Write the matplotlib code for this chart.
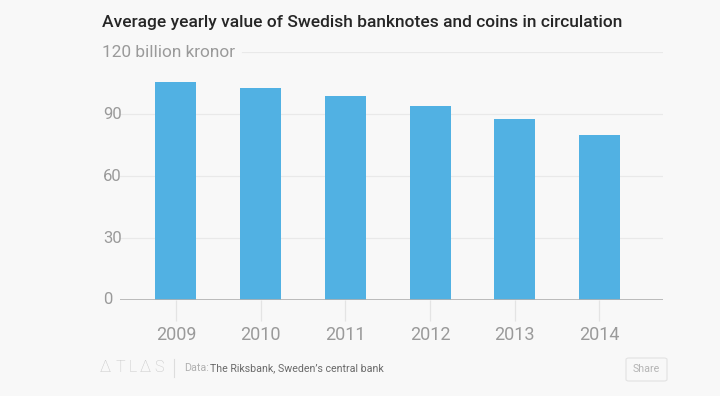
import numpy as np
import matplotlib
matplotlib.use("Agg")
import matplotlib.pyplot as plt
from matplotlib.patches import FancyBboxPatch

# data
years = ["2009", "2010", "2011", "2012", "2013", "2014"]
values = [105.6, 102.6, 98.9, 94.0, 87.7, 79.8]
yticks = [0, 30, 60, 90, 120]

bg = "#f8f8f8"
bar_color = "#51b1e3"
grey = "#9a9a9a"

plt.rcParams['font.family'] = ['Roboto', 'DejaVu Sans']

fig = plt.figure(figsize=(7.2, 3.96), dpi=100, facecolor=bg)
ax = fig.add_axes([120/720, 1-300/396, 543/720, (300-52.3)/396])
ax.set_facecolor(bg)

x = np.arange(len(years))
ax.bar(x, values, width=0.485, color=bar_color, zorder=3)
ax.set_xlim(-0.66, 5.75)
ax.set_ylim(0, 120)

# grid lines
for t in yticks[1:-1]:
    ax.axhline(t, color="#e9e9e9", lw=0.9, zorder=1)
ax.axhline(120, xmin=0.225, color="#e9e9e9", lw=0.9, zorder=1)
ax.axhline(0, color="#b0b0b0", lw=1.2, zorder=4)

for s in ax.spines.values():
    s.set_visible(False)
ax.set_yticks([])
ax.set_xticks(x)
ax.set_xticklabels(years, fontsize=13, color=grey)
ax.tick_params(axis="x", length=15, color="#e4e4e4", width=0.9, pad=4)

# y labels, left aligned
for t in yticks[:-1]:
    fig.text(103/720, ax.transData.transform((0, t))[1]/396, str(t),
             ha="left", va="center", fontsize=12, color=grey)
fig.text(102/720, 1-52.3/396, "120 billion kronor", ha="left", va="center",
         fontsize=12.4, color=grey)

fig.text(102/720, 1-23/396, "Average yearly value of Swedish banknotes and coins in circulation",
         ha="left", va="center", fontsize=12.5, color="#262626", fontweight="medium")

# footer
fy = 1 - 368/396
for lx, ch in zip([100, 116, 129, 140, 154], ["\u0394", "T", "L", "\u0394", "S"]):
    fig.text(lx/720, fy, ch, ha="left", va="center", fontsize=11.5,
             color="#c4c4c4", fontweight="light")
fig.add_artist(plt.Line2D([174/720, 174/720], [1-359/396, 1-377/396], color="#dddddd", lw=0.8))
fig.text(184/720, fy, "Data:", ha="left", va="center", fontsize=7.7, color="#b0b0b0")
fig.text(210/720, fy, "The Riksbank, Sweden\u2019s central bank", ha="left", va="center",
         fontsize=7.7, color="#6a6a6a")

box = FancyBboxPatch((626/720, 1-381/396), 41/720, 23/396,
                     boxstyle="round,pad=0,rounding_size=0.004",
                     transform=fig.transFigure, facecolor=bg, edgecolor="#e2e2e2", lw=0.8)
fig.add_artist(box)
fig.text(646.5/720, 1-369.5/396, "Share", ha="center", va="center", fontsize=7.7, color="#b5b5b5")

fig.savefig("out.png", dpi=100, facecolor=bg)
